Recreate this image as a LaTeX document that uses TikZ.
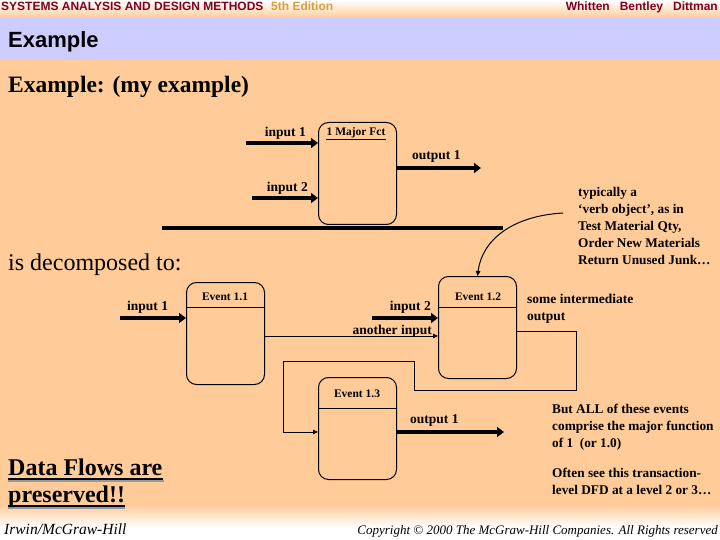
\documentclass[tikz,border=0pt]{standalone}
\usepackage{fontspec}
\setmainfont{Liberation Serif}
\setsansfont{Liberation Sans}
\usetikzlibrary{arrows.meta,positioning}
\definecolor{peach}{RGB}{255,204,153}
\definecolor{lavender}{RGB}{204,204,255}
\definecolor{maroon}{RGB}{128,0,32}
\definecolor{gold}{RGB}{214,160,64}

\begin{document}
\begin{tikzpicture}[x=1pt,y=-1pt,
   process/.style={draw,line width=1pt,rounded corners=10pt,anchor=north west,
                   minimum width=78pt,minimum height=102pt,inner sep=0pt},
   ptitle/.style={font=\bfseries\fontsize{11.5}{13}\selectfont,anchor=base,inner sep=0pt},
   flowlbl/.style={font=\bfseries\fontsize{13.5}{17}\selectfont,inner sep=0pt},
   note/.style={font=\bfseries\fontsize{13.3}{17}\selectfont,align=left,anchor=base west,inner sep=0pt},
   heading/.style={font=\bfseries\fontsize{23.5}{27}\selectfont,anchor=base west,inner sep=0pt},
   header/.style={font=\sffamily\bfseries\fontsize{12}{14}\selectfont,inner sep=0pt},
   footer/.style={font=\itshape\fontsize{13}{16}\selectfont,inner sep=0pt},
   bigflow/.style={line width=4.5pt,-{Triangle[length=7pt,width=10pt]}},
   smallflow/.style={line width=1pt,-{Triangle[length=5pt,width=4.5pt]}},
   loopline/.style={line width=1pt}]

% slide background
\fill[top color=white,bottom color=peach] (0,0) rectangle (720,18);
\fill[lavender] (0,18) rectangle (720,60);
\fill[peach] (0,60) rectangle (720,505);
\fill[top color=peach,bottom color=white] (0,505) rectangle (720,527);
\fill[white] (0,527) rectangle (720,540);

\node[header,text=maroon,anchor=base west] (book) at (1,11) {SYSTEMS ANALYSIS AND DESIGN METHODS};
\node[header,text=gold,anchor=base west] (edition) at (271,11) {5th Edition};
\node[header,text=maroon,anchor=base east] (authors) at (718,11) {Whitten\ \ \ Bentley\ \ \ Dittman};
\node[heading,font=\sffamily\bfseries\fontsize{22}{26}\selectfont] (title) at (8,48) {Example};

\node[heading] (example) at (8,93) {Example: (my example)};
\node[heading,font=\fontsize{24}{28}\selectfont] (decomp) at (8,270) {is decomposed to:};

% level 1 process
\node[process] (major) at (318,122) {};
\node[ptitle] (majort) at (356,136) {1 Major Fct};
\draw[line width=0.8pt] ([yshift=-3pt]majort.base west) -- ([yshift=-3pt]majort.base east);
\coordinate (in1) at (246,143);
\coordinate (in2) at (252,198);
\coordinate (out1) at (481,168);
\draw[bigflow] (in1) -- (major.west |- in1);
\draw[bigflow] (in2) -- (major.west |- in2);
\draw[bigflow] (major.east |- out1) -- (out1);
\node[flowlbl,anchor=base east] (in1l) at (306,137) {input 1};
\node[flowlbl,anchor=base east] (in2l) at (308,192) {input 2};
\node[flowlbl,anchor=base west] (out1l) at (412,160) {output 1};

\coordinate (cutl) at (162,228);
\coordinate (cutr) at (503,228);
\draw[line width=4pt] (cutl) -- (cutr);

\node[note] (verbnote) at (578,264) {typically a\\`verb object', as in\\Test Material Qty,\\Order New Materials\\Return Unused Junk\ldots};

% decomposed events
\node[process] (ev1) at (186,282) {};
\node[process] (ev2) at (438,276) {};
\node[process] (ev3) at (318,377) {};
\draw[line width=1pt] ([yshift=-25pt]ev1.north west) -- ([yshift=-25pt]ev1.north east);
\draw[line width=1pt] ([yshift=-31pt]ev2.north west) -- ([yshift=-31pt]ev2.north east);
\draw[line width=1pt] ([yshift=-31pt]ev3.north west) -- ([yshift=-31pt]ev3.north east);
\node[ptitle] (ev1t) at (225,300) {Event 1.1};
\node[ptitle] (ev2t) at (478,300) {Event 1.2};
\node[ptitle] (ev3t) at (357,397) {Event 1.3};

\coordinate (ein1) at (120,318);
\coordinate (ein2) at (372,318);
\draw[bigflow] (ein1) -- (ev1.west |- ein1);
\draw[bigflow] (ein2) -- (ev2.west |- ein2);
\node[flowlbl,anchor=base west] (ein1l) at (127,310) {input 1};
\node[flowlbl,anchor=base east] (ein2l) at (431,310) {input 2};

\draw[smallflow] ([yshift=-54pt]ev1.north east) -- ([yshift=-60pt]ev2.north west);
\node[flowlbl,anchor=base east] (anotherl) at (432,334) {another input};

\node[flowlbl,anchor=base west,align=left] (midl) at (527,320) {some intermediate\\output};

\draw[smallflow] ([yshift=-55pt]ev2.north east) -- (576,331) -- (576,390) -- (414,390)
   -- (414,361) -- (283,361) -- (283,432) -- (ev3.west |- 0,432);

\coordinate (eout1) at (504,432);
\draw[bigflow] (ev3.east |- eout1) -- (eout1);
\node[flowlbl,anchor=base west] (eout1l) at (410,423) {output 1};

\coordinate (curvestart) at (563,213);
\draw[smallflow] (curvestart) .. controls (512,216) and (482,240) .. (ev2.north);

\node[note] (allnote) at (552,447) {But ALL of these events\\comprise the major function\\of 1\ \ (or 1.0)};
\node[note] (oftennote) at (552,494) {Often see this transaction-\\level DFD at a level 2 or 3\ldots};

% preserved
\draw[black!40,line width=1.5pt] ([yshift=-6pt]8,475) -- ([yshift=-6pt]164,475);
\draw[black!40,line width=1.5pt] ([yshift=-6pt]8,502) -- ([yshift=-6pt]125,502);
\node[heading,font=\bfseries\fontsize{24}{28}\selectfont] (df1) at (8,475) {Data Flows are};
\node[heading,font=\bfseries\fontsize{24}{28}\selectfont] (df2) at (8,502) {preserved!!};
\draw[line width=1.5pt] ([yshift=-4pt]df1.base west) -- ([yshift=-4pt]df1.base east);
\draw[line width=1.5pt] ([yshift=-4pt]df2.base west) -- ([yshift=-4pt]df2.base east);

\node[footer,anchor=base west,font=\itshape\fontsize{15.5}{18}\selectfont] (publisher) at (4,534) {Irwin/McGraw-Hill};
\node[footer,anchor=base east] (copyright) at (718,534) {Copyright \textcopyright{} 2000 The McGraw-Hill Companies. All Rights reserved};
\end{tikzpicture}
\end{document}
